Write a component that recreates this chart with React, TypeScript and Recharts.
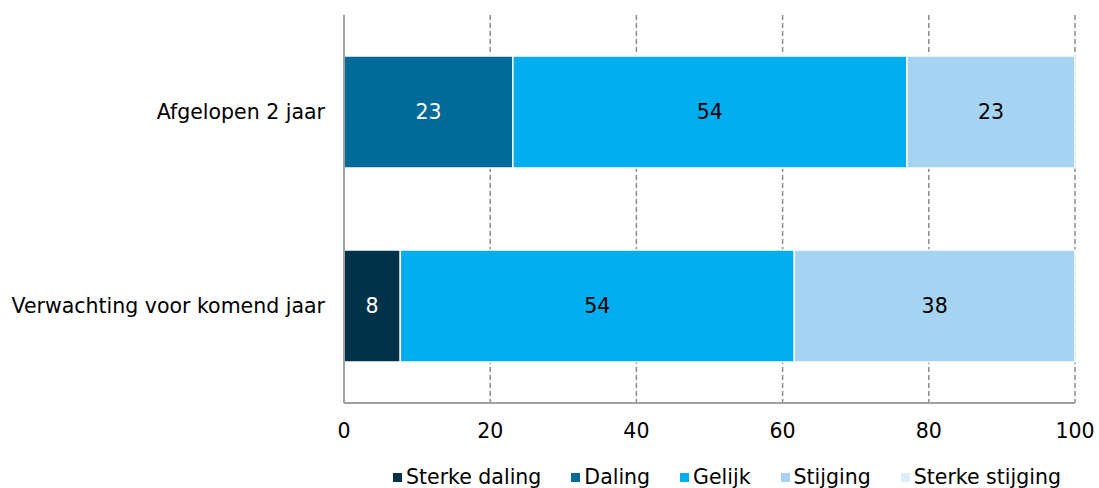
import { BarChart, Bar, XAxis, YAxis, CartesianGrid, Legend, LabelList } from "recharts";

const categories = ["Afgelopen 2 jaar", "Verwachting voor komend jaar"];
const sterkeDaling = [0, 7.7];
const daling = [23.1, 0];
const gelijk = [53.9, 53.9];
const stijging = [23.0, 38.4];
const sterkeStijging = [0, 0];
const xTicks = [0, 20, 40, 60, 80, 100];

const SERIES = [
  { key: "sterkeDaling", label: "Sterke daling", color: "#00334a", text: "#ffffff" },
  { key: "daling", label: "Daling", color: "#006b98", text: "#ffffff" },
  { key: "gelijk", label: "Gelijk", color: "#00aeef", text: "#000000" },
  { key: "stijging", label: "Stijging", color: "#a6d3f2", text: "#000000" },
  { key: "sterkeStijging", label: "Sterke stijging", color: "#dcedfb", text: "#000000" },
];

const data = categories.map((name, i) => ({
  name,
  sterkeDaling: sterkeDaling[i],
  daling: daling[i],
  gelijk: gelijk[i],
  stijging: stijging[i],
  sterkeStijging: sterkeStijging[i],
}));

const FONT = "'DejaVu Sans', Verdana, sans-serif";
const FS = 20.5;

function formatLabel(v: any) {
  if (!v) return "";
  return String(Math.round(v));
}

function XTick({ x, y, payload }: any) {
  return (
    <text x={x} y={y + 20} dy="0.71em" textAnchor="middle" fontSize={FS} fill="#000" fontFamily={FONT}>
      {payload.value}
    </text>
  );
}

function LegendContent() {
  return (
    <div style={{ display: "flex", paddingLeft: 393, height: 22, alignItems: "center", fontFamily: FONT, fontSize: FS, color: "#000", whiteSpace: "nowrap" }}>
      {SERIES.map((s) => (
        <div key={s.key} style={{ display: "flex", alignItems: "center", marginRight: 30 }}>
          <span style={{ width: 9, height: 9, background: s.color, display: "inline-block", marginRight: 4 }} />
          <span>{s.label}</span>
        </div>
      ))}
    </div>
  );
}

export default function App() {
  return (
    <div style={{ position: "absolute", left: 0, top: 0, background: "#fff" }}>
      <BarChart
        width={1099}
        height={488}
        data={data}
        layout="vertical"
        margin={{ top: 15, right: 24, bottom: 0, left: 0 }}
        style={{ fontFamily: FONT }}
      >
        <CartesianGrid horizontal={false} stroke="#8c8c8c" strokeWidth={1.5} strokeDasharray="5 3" />
        <XAxis
          type="number"
          domain={[0, 100]}
          ticks={xTicks}
          tickLine={false}
          tickSize={0}
          tickMargin={0}
          axisLine={{ stroke: "#a0a0a0", strokeWidth: 2 }}
          tick={<XTick />}
          height={63}
        />
        <YAxis
          type="category"
          dataKey="name"
          width={344}
          tickLine={false}
          tickSize={0}
          tickMargin={19}
          axisLine={{ stroke: "#a0a0a0", strokeWidth: 2 }}
          tick={{ fontSize: FS, fill: "#000" }}
        />
        <Legend verticalAlign="bottom" content={<LegendContent />} />
        {SERIES.map((s) => (
          <Bar
            key={s.key}
            dataKey={s.key}
            name={s.label}
            stackId="a"
            barSize={112}
            fill={s.color}
            stroke="#ffffff"
            strokeWidth={1.5}
            isAnimationActive={false}
          >
            <LabelList dataKey={s.key} position="center" formatter={formatLabel} fill={s.text} fontSize={FS} />
          </Bar>
        ))}
      </BarChart>
    </div>
  );
}
